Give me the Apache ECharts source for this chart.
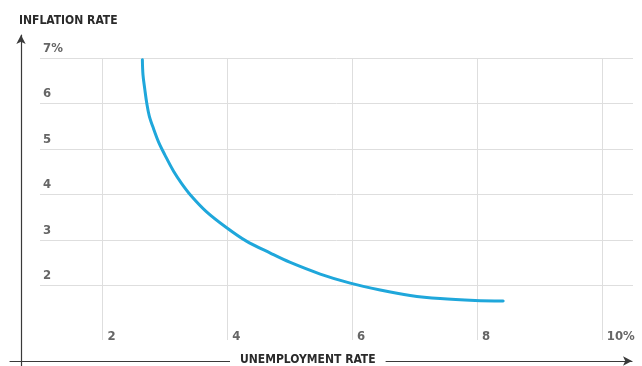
<!DOCTYPE html>
<html>
<head>
<meta charset="utf-8">
<title>Phillips Curve</title>
<script src="https://cdn.jsdelivr.net/npm/echarts@6/dist/echarts.min.js"></script>
<style>
  html, body { margin: 0; padding: 0; background: #fff; }
  #chart { width: 642px; height: 366px; }
</style>
</head>
<body>
<div id="chart"></div>
<script>
// Phillips curve: inflation rate vs. unemployment rate (%)
const unemployment = [2.64, 2.65, 2.68, 2.71, 2.75, 2.82, 2.90, 3.00, 3.14, 3.27, 3.41, 3.66, 3.98,
                      4.30, 4.69, 5.00, 5.49, 5.97, 6.45, 6.93, 7.41, 7.97, 8.42];
const inflation    = [6.96, 6.63, 6.30, 6.01, 5.73, 5.44, 5.15, 4.87, 4.51, 4.24, 3.99, 3.63, 3.28,
                      2.98, 2.71, 2.51, 2.25, 2.05, 1.90, 1.78, 1.71, 1.67, 1.66];

const xTicks = [2, 4, 6, 8, 10];
const yTicks = [2, 3, 4, 5, 6, 7];

const xTitle = 'UNEMPLOYMENT RATE';
const yTitle = 'INFLATION RATE';

const FONT = '"Liberation Sans Narrow", "DejaVu Sans Condensed", sans-serif';
const gridColor = '#dedede';
const axisColor = '#3a3a3a';
const tickColor = '#666';

const curve = unemployment.map((u, i) => [u, inflation[i]]);

const chart = echarts.init(document.getElementById('chart'), null, { renderer: 'canvas' });

chart.setOption({
  animation: false,
  backgroundColor: '#fff',
  title: [
    {
      text: yTitle,
      left: 14, top: 10,
      textStyle: { fontFamily: FONT, fontWeight: 'bold', fontSize: 12, color: '#2a2a2a' }
    },
    {
      text: xTitle,
      left: 230, top: 353,
      padding: [1, 10, 1, 10],
      backgroundColor: '#fff',
      textStyle: { fontFamily: FONT, fontWeight: 'bold', fontSize: 12, color: '#2a2a2a' }
    }
  ],
  grid: [
    // plotting area
    { left: 40, right: 9, top: 58, bottom: 26, containLabel: false },
    // frame carrying the arrowed axis lines
    { left: 10, right: 10, top: 35, bottom: 0, containLabel: false }
  ],
  xAxis: [
    {
      type: 'value', gridIndex: 0, min: 1, max: 10.5,
      axisLine: { show: false },
      axisTick: { show: false, customValues: xTicks },
      axisLabel: {
        customValues: xTicks,
        inside: true, margin: -3,
        align: 'left', verticalAlign: 'bottom',
        padding: [0, 0, 0, 5],
        fontFamily: FONT, fontWeight: 'bold', fontSize: 13, color: tickColor,
        formatter: v => (v === 10 ? v + '%' : String(v))
      },
      splitLine: { show: true, showMinLine: true, showMaxLine: true,
        lineStyle: { color: gridColor, width: 1 } }
    },
    {
      type: 'value', gridIndex: 1, min: 0, max: 1, position: 'bottom', offset: -5,
      axisLine: { show: true, symbol: ['none', 'arrow'], symbolSize: [7, 9],
        lineStyle: { color: axisColor, width: 1.2 } },
      axisTick: { show: false }, axisLabel: { show: false }, splitLine: { show: false }
    }
  ],
  yAxis: [
    {
      type: 'value', gridIndex: 0, min: 0.8, max: 7,
      axisLine: { show: false },
      axisTick: { show: false, customValues: yTicks },
      axisLabel: {
        customValues: yTicks,
        inside: true, margin: 3,
        align: 'left', verticalAlign: 'bottom',
        padding: [0, 0, 3, 0],
        fontFamily: FONT, fontWeight: 'bold', fontSize: 13, color: tickColor,
        formatter: v => (v === 7 ? v + '%' : String(v))
      },
      splitLine: { show: true, showMinLine: true, showMaxLine: true,
        lineStyle: { color: gridColor, width: 1 } }
    },
    {
      type: 'value', gridIndex: 1, min: 0, max: 1, position: 'left', offset: -11,
      axisLine: { show: true, symbol: ['none', 'arrow'], symbolSize: [7, 9],
        lineStyle: { color: axisColor, width: 1.2 } },
      axisTick: { show: false }, axisLabel: { show: false }, splitLine: { show: false }
    }
  ],
  series: [
    {
      type: 'line',
      xAxisIndex: 0, yAxisIndex: 0,
      data: curve,
      smooth: 0.35,
      showSymbol: false,
      lineStyle: { color: '#1fa7db', width: 3, cap: 'round' }
    }
  ]
});
</script>
</body>
</html>
